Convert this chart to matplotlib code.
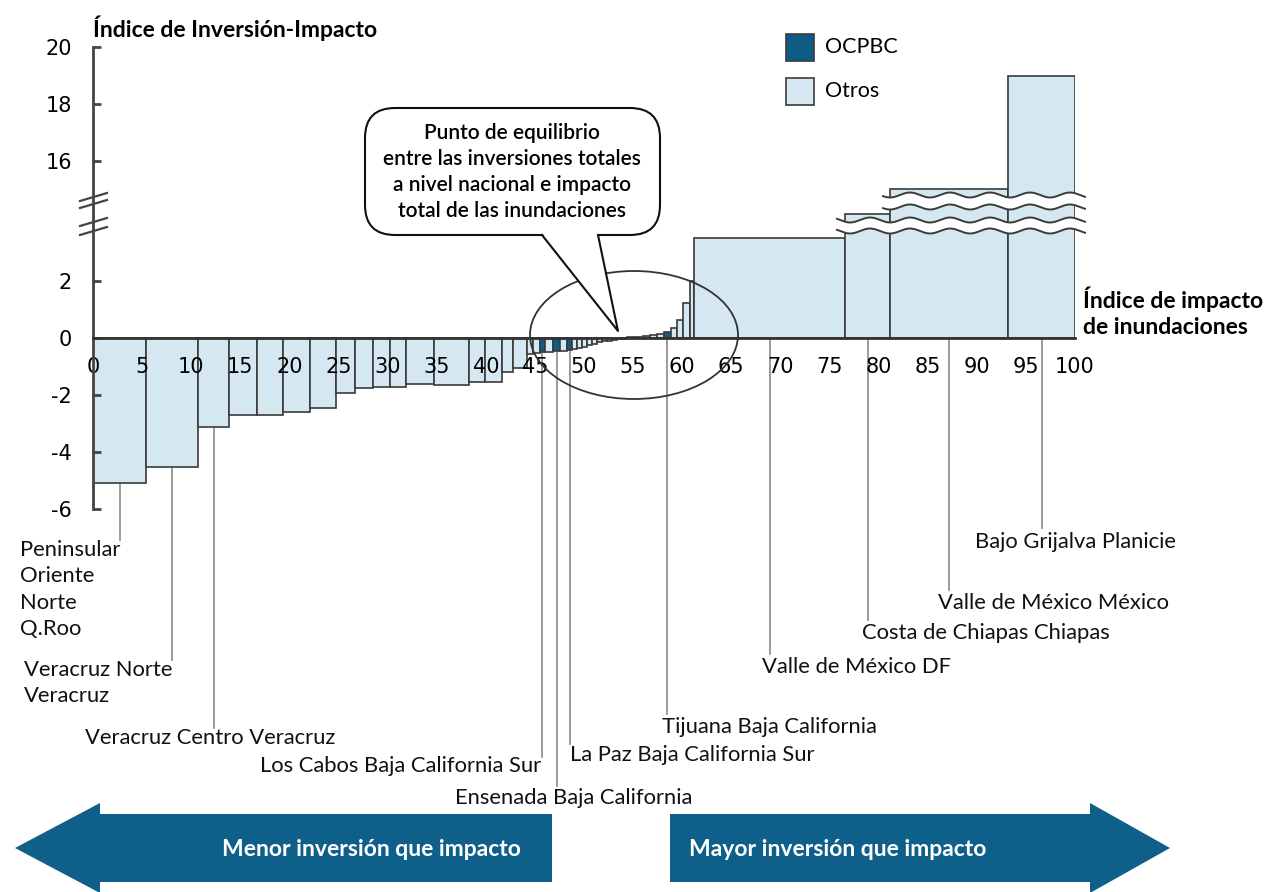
import matplotlib
matplotlib.use("Agg")
import matplotlib.pyplot as plt
import numpy as np
from matplotlib.patches import FancyBboxPatch, Polygon, Ellipse, Rectangle
from matplotlib.lines import Line2D
from matplotlib.transforms import Affine2D

plt.rcParams['font.family'] = ['Lato', 'DejaVu Sans']

# bar edges along the flood impact index (0-100)
edges = [0, 5.4, 10.7, 13.9, 16.7, 19.3, 22.1, 24.7, 26.7, 28.5, 30.2, 31.9, 34.7, 38.3, 39.9, 41.7, 42.8,
         44.2, 44.8, 45.5, 46.0, 46.8, 47.6, 48.3, 48.8, 49.3, 49.8, 50.3, 50.8, 51.3, 51.8, 52.3, 52.9, 53.4, 53.9,
         54.4, 55.2, 56.0, 56.7, 57.4, 58.1, 58.9, 59.5, 60.1, 60.8, 61.2, 76.6, 81.2, 93.2, 100]
# investment-impact index of each bar
values = [-5.08, -4.54, -3.13, -2.70, -2.70, -2.58, -2.47, -1.92, -1.77, -1.73, -1.73, -1.61, -1.65, -1.53, -1.53,
          -1.18, -1.05,
          -0.55, -0.52, -0.50, -0.48, -0.46, -0.44, -0.42, -0.38, -0.34, -0.30, -0.26, -0.20, -0.15, -0.12, -0.09,
          -0.06, -0.04, -0.02,
          0.02, 0.04, 0.07, 0.10, 0.15, 0.22, 0.35, 0.63, 1.23, 2.0, 3.5, 8.4, 14.0, 19.0]
ocpbc = [19, 21, 23, 40]   # bars of the OCPBC basins

label_bars = [0, 1, 2, 19, 21, 23, 40, 45, 46, 47, 48]
label_texts = ["Peninsular\nOriente\nNorte\nQ.Roo", "Veracruz Norte\nVeracruz", "Veracruz Centro Veracruz",
               "Los Cabos Baja California Sur", "Ensenada Baja California", "La Paz Baja California Sur",
               "Tijuana Baja California", "Valle de México DF", "Costa de Chiapas Chiapas",
               "Valle de México México", "Bajo Grijalva Planicie"]
# label placement in picture pixels: x, y, ha, va, bottom of leader line
label_pos = [(20, 540, 'left', 'top', 540), (24, 660, 'left', 'top', 660), (85, 738, 'left', 'center', 728),
             (541, 766, 'right', 'center', 757), (455, 798, 'left', 'center', 786),
             (570, 755, 'left', 'center', 744), (662, 727, 'left', 'center', 714),
             (762, 667, 'left', 'center', 654), (862, 633, 'left', 'center', 620),
             (938, 603, 'left', 'center', 590), (975, 542, 'left', 'center', 528)]

yticks = [-6, -4, -2, 0, 2, 16, 18, 20]

light = '#d5e8f1'
dark = '#0e5c86'
edge = '#3a3a3a'
arrow_col = '#0f5f8b'

# broken y scale: compress 3.6..15.2
A, B = 3.6, 15.2
shift = 16 - 177 / 28.5
s = (B - shift - A) / (B - A)

def fwd(y):
    y = np.asarray(y, float)
    return np.where(y <= A, y, np.where(y >= B, y - shift, A + (y - A) * s))

def inv(d):
    d = np.asarray(d, float)
    return np.where(d <= A, d, np.where(d >= B - shift, d + shift, A + (d - A) / s))

W, H = 1268, 892
fig = plt.figure(figsize=(W / 100, H / 100), dpi=100)
T = Affine2D().scale(1 / W, -1 / H).translate(0, 1) + fig.transFigure

ax_top, ax_bot = 32.8, 523.25
ax = fig.add_axes([93 / W, 1 - ax_bot / H, 982 / W, (ax_bot - ax_top) / H])
ax.set_yscale('function', functions=(fwd, inv))

left = np.array(edges[:-1])
widths = np.diff(edges)
colors = [dark if i in ocpbc else light for i in range(len(values))]
ax.bar(left, values, width=widths, align='edge', color=colors, edgecolor=edge, linewidth=1.2, zorder=1)

ax.set_xlim(0, 100)
ax.set_ylim(-6.5, 20.5)
ax.set_xticks(range(0, 101, 5))
ax.set_yticks(yticks)
ax.set_yticklabels([str(t) for t in yticks])
for sp in ['top', 'right']:
    ax.spines[sp].set_visible(False)
ax.spines['bottom'].set_position(('data', 0))
ax.spines['bottom'].set_linewidth(2)
ax.spines['bottom'].set_color('#333333')
ax.spines['bottom'].set_zorder(3)
ax.spines['left'].set_bounds(-6, 20)
ax.spines['left'].set_linewidth(2)
ax.spines['left'].set_color('#444444')
ax.tick_params(axis='x', length=0, pad=14, labelsize=15, labelfontfamily='DejaVu Sans')
ax.tick_params(axis='y', direction='in', length=6, width=2, color='#444444', pad=15, labelsize=15,
               labelfontfamily='DejaVu Sans')
ax.patch.set_visible(False)

# leader lines and labels
for i, txt, (px, py, ha, va, yb) in zip(label_bars, label_texts, label_pos):
    xc = left[i] + widths[i] / 2
    ytop = min(values[i], 0)
    ax.plot([xc, xc], [ytop, (338 - yb) / 28.5], color='#8a8a8a', lw=1.2, clip_on=False, zorder=0.5)
    fig.text(px, py, txt, transform=T, ha=ha, va=va, fontsize=15.8, linespacing=1.4, color='#111111')

# wavy breaks on the tall bars
def wave(x, y0):
    return y0 + 2.5 * np.sin(2 * np.pi * (x - 840) / 40)

for y1, y2, x0 in [(195, 207, 883), (220, 231, 837)]:
    xs = np.linspace(x0, 1085, 300)
    verts = np.column_stack([np.r_[xs, xs[::-1]], np.r_[wave(xs, y1), wave(xs[::-1], y2)]])
    fig.add_artist(Polygon(verts, closed=True, transform=T, facecolor='white', edgecolor='none', zorder=3))
    fig.add_artist(Line2D(xs, wave(xs, y1), transform=T, color=edge, lw=1.4, zorder=4))
    fig.add_artist(Line2D(xs, wave(xs, y2), transform=T, color=edge, lw=1.4, zorder=4))

# y axis break marks
for y in [197, 204, 222, 231]:
    fig.add_artist(Line2D([80, 107], [y + 4, y - 4], transform=T, color='#444444', lw=1.6, zorder=4))

# circle around equilibrium point
fig.add_artist(Ellipse((634, 335), 208, 128, transform=T, fill=False, edgecolor='#333333', lw=1.3, zorder=4))

# callout bubble
fig.add_artist(FancyBboxPatch((365, 108), 295, 127, boxstyle='round,pad=0,rounding_size=30', transform=T,
                              facecolor='white', edgecolor='#111111', lw=1.5, zorder=5))
fig.add_artist(Polygon([(542, 233), (618, 331), (598, 233)], closed=True, transform=T, facecolor='white',
                       edgecolor='none', zorder=6))
fig.add_artist(Line2D([542, 618, 598], [235, 331, 235], transform=T, color='#111111', lw=1.5, zorder=7))
fig.text(512, 172, "Punto de equilibrio\nentre las inversiones totales\na nivel nacional e impacto\ntotal de las inundaciones",
         transform=T, ha='center', va='center', fontsize=15, fontweight='semibold', linespacing=1.38, zorder=8)

# legend
fig.add_artist(Rectangle((786, 34), 28, 27, transform=T, facecolor=dark, edgecolor=edge, lw=1.2))
fig.add_artist(Rectangle((786, 78), 28, 27, transform=T, facecolor=light, edgecolor=edge, lw=1.2))
fig.text(825, 47, "OCPBC", transform=T, va='center', fontsize=15.5)
fig.text(825, 91, "Otros", transform=T, va='center', fontsize=15.5)

# axis titles
fig.text(93, 28, "Índice de Inversión-Impacto", transform=T, va='center', fontsize=16.5, fontweight='bold')
fig.text(1083, 312, "Índice de impacto\nde inundaciones", transform=T, va='center', fontsize=16.5,
         fontweight='bold', linespacing=1.3)

# direction arrows
fig.add_artist(Polygon([(15, 848), (100, 803), (100, 814), (552, 814), (552, 882), (100, 882), (100, 893)],
                       closed=True, transform=T, facecolor=arrow_col, edgecolor='none'))
fig.add_artist(Polygon([(670, 814), (1090, 814), (1090, 803), (1170, 848), (1090, 893), (1090, 882), (670, 882)],
                       closed=True, transform=T, facecolor=arrow_col, edgecolor='none'))
fig.text(371, 849, "Menor inversión que impacto", transform=T, ha='center', va='center', fontsize=16.5,
         fontweight='bold', color='white')
fig.text(838, 849, "Mayor inversión que impacto", transform=T, ha='center', va='center', fontsize=16.5,
         fontweight='bold', color='white')

fig.savefig('out.png', dpi=100)
